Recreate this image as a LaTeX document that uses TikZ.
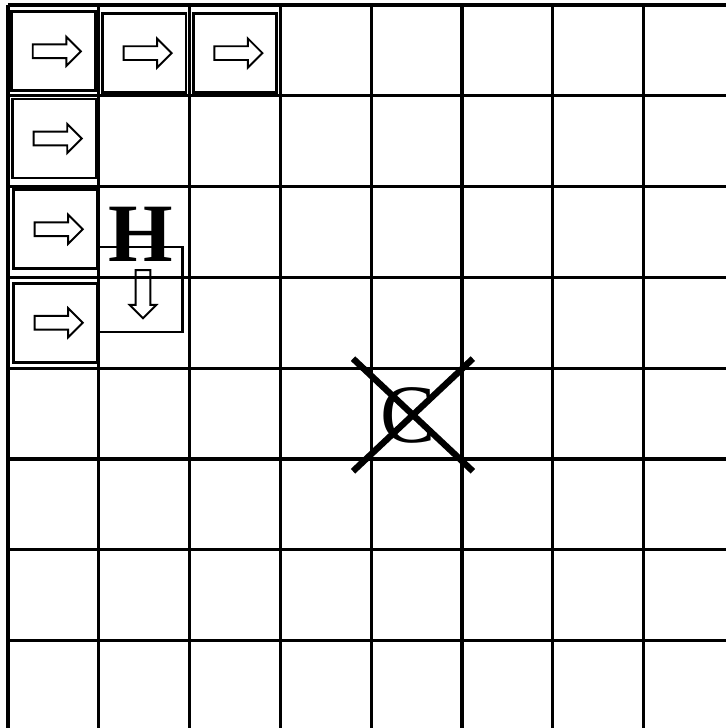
\documentclass[tikz,border=0pt]{standalone}
\usepackage{fontspec}
\setmainfont{Liberation Serif}
\usetikzlibrary{shapes.arrows,shapes.misc}

\begin{document}
\begin{tikzpicture}[
    gridline/.style={line width=1pt},
    cellbox/.style={draw, line width=0.9pt, minimum width=0.92cm, minimum height=0.87cm, inner sep=0pt},
    blockarrow/.style={draw, single arrow, line width=0.6pt, minimum height=0.53cm, inner xsep=0pt, inner ysep=0.065cm, single arrow head extend=0.085cm},
    bigletter/.style={inner sep=0pt, font=\fontsize{26}{26}\selectfont}]
    \clip (-0.088,0.055) rectangle (7.907,-7.963);
    \draw[gridline] (0,0) grid (8,-8);

    \foreach \name/\x/\y in {boxa/0.50/-0.51, boxb/1.50/-0.53, boxc/2.50/-0.53, boxd/0.51/-1.47, boxe/0.52/-2.47, boxf/0.52/-3.50}
    {
        \node[cellbox] (\name) at (\x,\y) {};
        \node[blockarrow] (\name-arrow) at (\name) {};
    }

    \node[bigletter, font=\fontsize{26}{26}\selectfont\bfseries] (hletter) at (1.465,-2.53) {H};
    \node[draw, line width=0.8pt, minimum width=0.92cm, minimum height=0.935cm, inner sep=0pt] (hbox) at (1.463,-3.133) {};
    \node[blockarrow, rotate=-90, inner ysep=0.07cm, single arrow head extend=0.066cm] (hbox-arrow) at (1.487,-3.144) {};

    \node[bigletter] (cletter) at (4.405,-4.52) {C};
    \node[cross out, draw, line width=2pt, minimum width=1.25cm, minimum height=1.17cm, inner sep=0pt] (cross) at (4.46,-4.515) {};
\end{tikzpicture}
\end{document}
